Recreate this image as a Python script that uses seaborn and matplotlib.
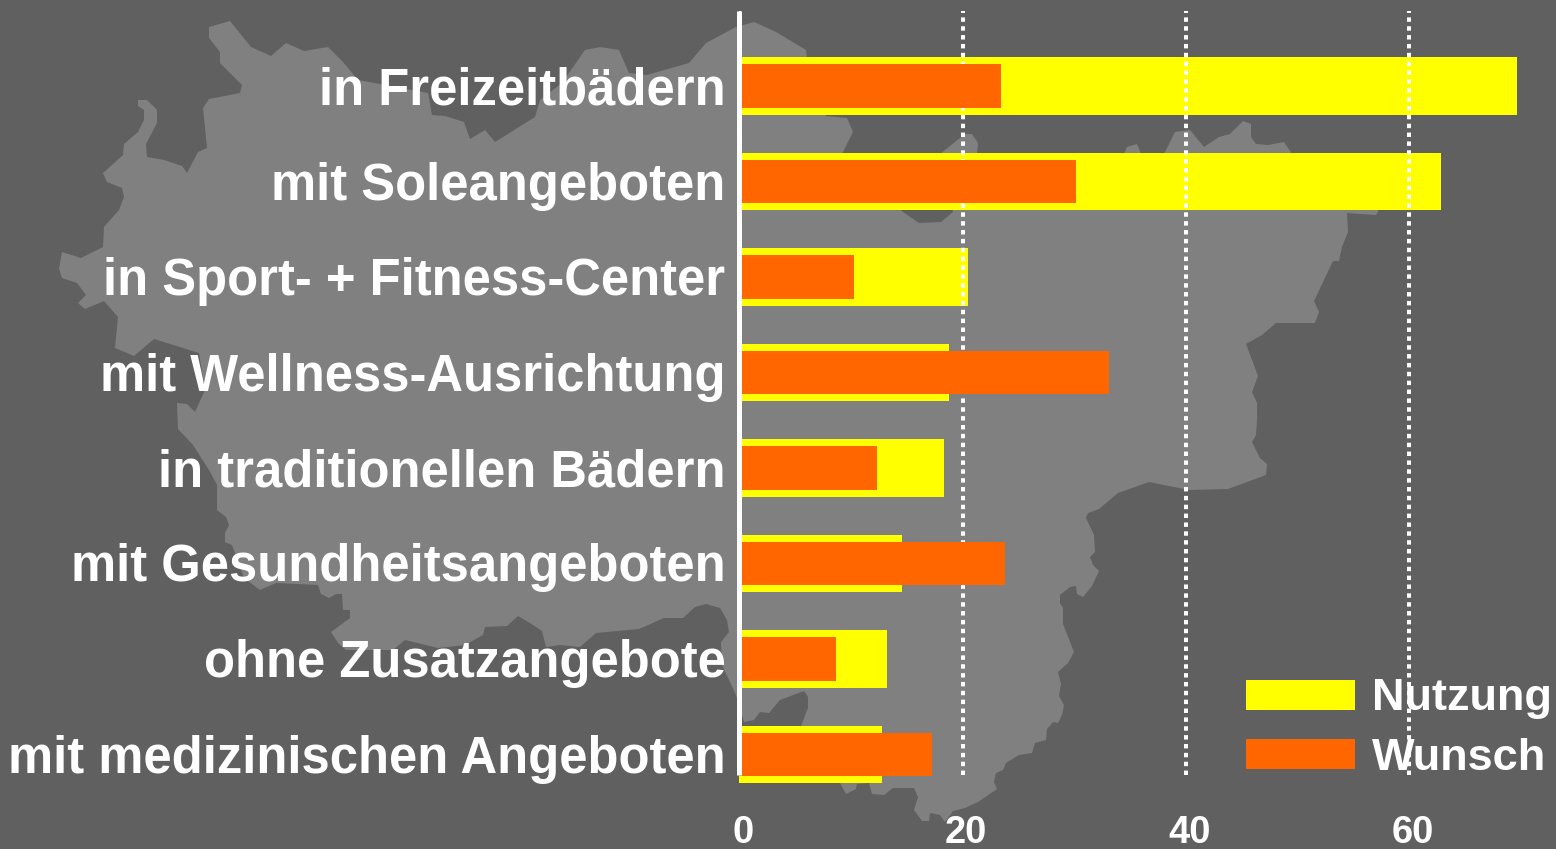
import matplotlib
matplotlib.use("Agg")
import matplotlib.pyplot as plt
import matplotlib.transforms as mtransforms
import pandas as pd
import seaborn as sns

categories = [
    "in Freizeitbädern",
    "mit Soleangeboten",
    "in Sport- + Fitness-Center",
    "mit Wellness-Ausrichtung",
    "in traditionellen Bädern",
    "mit Gesundheitsangeboten",
    "ohne Zusatzangebote",
    "mit medizinischen Angeboten",
]
nutzung = [69.7, 62.9, 20.5, 18.8, 18.3, 14.6, 13.2, 12.8]
wunsch = [23.4, 30.2, 10.3, 33.1, 12.3, 23.8, 8.7, 17.3]
x_ticks = [0, 20, 40, 60]

BG = "#606060"
MAP_GREY = "#808080"
YELLOW = "#ffff00"
ORANGE = "#ff6600"

# background silhouette, in image pixels
map_outline = [
    (209, 27), (230, 21), (251, 47), (271, 56), (286, 43), (304, 51), (328, 47),
    (343, 62), (358, 80), (428, 93), (432, 115), (445, 116), (464, 122), (470, 139),
    (485, 130), (495, 142), (535, 117), (540, 100), (562, 83), (585, 50), (600, 47),
    (619, 50), (629, 73), (647, 75), (689, 63), (706, 43), (736, 27), (754, 22),
    (776, 32), (806, 50), (807, 58), (826, 116), (847, 118), (853, 132), (842, 154),
    (903, 212), (919, 223), (941, 222), (953, 212), (940, 154), (965, 134), (972, 134),
    (978, 143), (977, 154), (990, 175), (1124, 175), (1124, 154), (1127, 147),
    (1137, 144), (1141, 154), (1164, 154), (1175, 132), (1190, 130), (1204, 147),
    (1219, 137), (1230, 134), (1243, 121), (1251, 124), (1251, 137), (1256, 144),
    (1268, 145), (1284, 142), (1292, 154), (1378, 205), (1378, 212), (1376, 215),
    (1347, 213), (1348, 232), (1342, 247), (1339, 261), (1333, 261), (1314, 301),
    (1319, 312), (1315, 323), (1276, 323), (1262, 335), (1246, 344), (1258, 376),
    (1252, 392), (1257, 403), (1257, 420), (1256, 435), (1252, 442), (1260, 458),
    (1267, 464), (1266, 475), (1228, 489), (1189, 490), (1149, 482), (1118, 493),
    (1099, 509), (1088, 513), (1086, 518), (1094, 535), (1095, 552), (1090, 557),
    (1093, 565), (1099, 571), (1092, 586), (1083, 597), (1077, 594), (1076, 586),
    (1070, 587), (1060, 595), (1060, 603), (1063, 608), (1063, 624), (1074, 652),
    (1068, 663), (1058, 672), (1061, 684), (1059, 696), (1064, 705), (1062, 715),
    (1058, 723), (1053, 722), (1047, 729), (1046, 740), (1035, 743), (1032, 753),
    (1019, 755), (1006, 763), (1003, 770), (996, 773), (994, 782), (997, 789),
    (978, 802), (965, 808), (953, 811), (945, 822), (940, 815), (930, 813), (929, 821),
    (922, 821), (914, 810), (918, 797), (914, 788), (893, 788), (884, 795), (872, 794),
    (869, 783), (857, 784), (856, 789), (846, 794), (840, 783), (835, 760), (801, 726),
    (808, 708), (808, 697), (804, 691), (780, 700), (769, 713), (760, 712), (754, 720),
    (744, 722), (736, 695), (722, 665), (721, 642), (729, 632), (727, 620), (720, 608),
    (706, 604), (695, 607), (683, 618), (664, 618), (639, 629), (596, 633), (580, 647),
    (560, 645), (546, 647), (542, 631), (530, 623), (518, 616), (507, 626), (485, 627),
    (483, 635), (465, 645), (438, 648), (405, 640), (393, 650), (346, 650), (338, 643),
    (331, 632), (350, 618), (350, 610), (343, 610), (342, 594), (336, 594), (329, 598),
    (321, 594), (318, 585), (276, 583), (260, 590), (244, 578), (232, 545), (225, 542),
    (225, 533), (229, 525), (226, 517), (217, 510), (217, 485), (209, 470), (193, 445),
    (178, 429), (177, 403), (187, 404), (195, 412), (205, 390), (199, 353), (154, 339),
    (134, 356), (115, 348), (118, 317), (104, 301), (85, 309), (78, 303), (86, 295),
    (77, 283), (62, 278), (59, 269), (62, 252), (81, 258), (103, 247), (104, 227),
    (119, 210), (124, 197), (122, 188), (107, 182), (103, 173), (123, 155), (124, 144),
    (138, 132), (144, 120), (144, 110), (138, 106), (138, 100), (147, 100), (157, 110),
    (157, 123), (146, 144), (147, 157), (164, 160), (182, 166), (187, 173), (198, 152),
    (207, 148), (203, 108), (209, 99), (240, 93), (242, 85), (220, 63), (220, 52),
    (209, 38),
]

sns.set_style("white")
plt.rcParams["font.family"] = ["Liberation Sans", "DejaVu Sans"]
plt.rcParams["font.weight"] = "bold"

df = pd.DataFrame({"category": categories, "Nutzung": nutzung, "Wunsch": wunsch})

W, H = 1556, 849
fig = plt.figure(figsize=(W / 100, H / 100), dpi=100, facecolor=BG)

bg_ax = fig.add_axes([0, 0, 1, 1])
bg_ax.set_xlim(0, W)
bg_ax.set_ylim(H, 0)
bg_ax.axis("off")
bg_ax.fill(*zip(*map_outline), color=MAP_GREY, linewidth=0)

ax = fig.add_axes([739.4 / W, (H - 775) / H, (W - 739.4) / W, 764 / H])
ax.patch.set_alpha(0)

sns.barplot(
    data=df, y="category", x="Nutzung", color=YELLOW, saturation=1, width=0.606,
    label="Nutzung", zorder=2, clip_on=False, linewidth=0, ax=ax,
)
sns.barplot(
    data=df, y="category", x="Wunsch", color=ORANGE, saturation=1, width=0.46,
    label="Wunsch", zorder=3, clip_on=False, linewidth=0, ax=ax,
)

ax.set_xlim(0, (W - 739.4) / 11.16)
ax.set_ylim((775 - 86) / 95.5, (11 - 86) / 95.5)
ax.set_xlabel("")
ax.set_ylabel("")
ax.set_xticks(x_ticks)

ax.set_axisbelow(False)
ax.xaxis.grid(True, color="white", linewidth=2.9, linestyle=(0, (1.1, 1.1)))
ax.yaxis.grid(False)
for name in ["top", "right", "bottom"]:
    ax.spines[name].set_visible(False)
ax.spines["left"].set_color("white")
ax.spines["left"].set_linewidth(3.6)
ax.spines["left"].set_zorder(4)
ax.spines["left"].set_capstyle("butt")

ax.tick_params(axis="y", length=0, pad=10, labelsize=36.5, labelcolor="white")
ax.tick_params(axis="x", length=0, pad=29, labelsize=27.4, labelcolor="white")
nudge_x = mtransforms.ScaledTranslation(3.5 / 100, 0, fig.dpi_scale_trans)
for label in ax.get_xticklabels():
    label.set_transform(label.get_transform() + nudge_x)
nudge_y = mtransforms.ScaledTranslation(0, 1 / 100, fig.dpi_scale_trans)
for label in ax.get_yticklabels():
    label.set_transform(label.get_transform() + nudge_y)

ax.legend(
    loc="lower left",
    bbox_to_anchor=(1246 / W, (H - 779) / H),
    bbox_transform=fig.transFigure,
    frameon=False,
    fontsize=32.5,
    labelcolor="white",
    borderpad=0,
    borderaxespad=0,
    handlelength=2.42,
    handleheight=0.65,
    handletextpad=0.38,
    labelspacing=0.41,
)

fig.savefig("out.png", dpi=100, facecolor=BG)
plt.close(fig)
